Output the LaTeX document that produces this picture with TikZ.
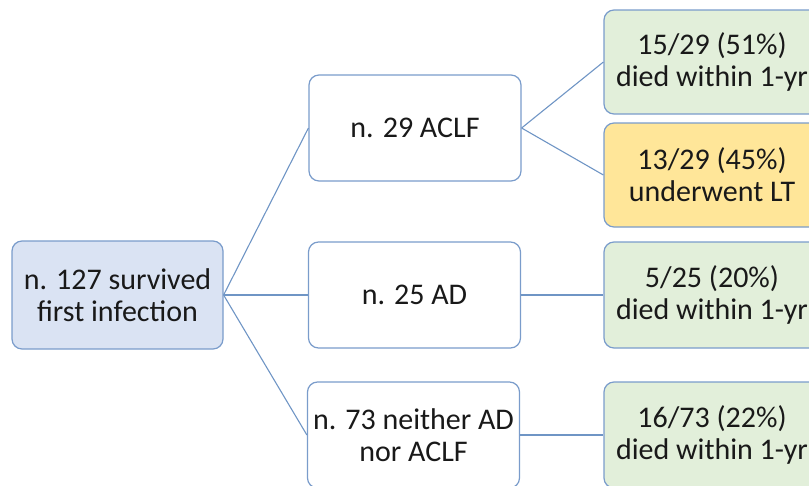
\documentclass[tikz,border=0pt]{standalone}
\usepackage{fontspec}
\setmainfont{Carlito}
\definecolor{boxline}{HTML}{7A9CCB}
\definecolor{conn}{HTML}{6F95C5}
\definecolor{bluefill}{HTML}{DAE3F3}
\definecolor{greenfill}{HTML}{E2EFDA}
\definecolor{yellowfill}{HTML}{FFE699}
\begin{document}
\begin{tikzpicture}[x=1pt,y=-1pt,
  box/.style={draw=boxline, line width=1.2pt, rounded corners=10pt, fill=white,
    minimum width=212pt, minimum height=106pt, align=center, inner sep=0pt,
    font=\fontsize{30}{32}\selectfont, text=black!90},
  rbox/.style={box, minimum width=216pt},
  link/.style={draw=conn, line width=1.1pt}]
\useasboundingbox (0,0) rectangle (809,485);
\clip (0,0) rectangle (809,485);
\node[box, fill=bluefill, minimum width=211pt, minimum height=108pt] (root) at (117.5,295) {n. 127 survived\\first infection};
\node[box] (aclf) at (415,128) {n. 29 ACLF};
\node[box] (ad) at (414.5,295) {n. 25 AD};
\node[box] (nei) at (413.5,435) {n. 73 neither AD\\nor ACLF};
\node[rbox, fill=greenfill, minimum height=104pt] (g1) at (712,62) {15/29 (51\%)\\died within 1-yr};
\node[rbox, fill=yellowfill, minimum height=104pt] (y1) at (712,175) {13/29 (45\%)\\underwent LT};
\node[rbox, fill=greenfill] (g2) at (712,295) {5/25 (20\%)\\died within 1-yr};
\node[rbox, fill=greenfill] (g3) at (712,435) {16/73 (22\%)\\died within 1-yr};
\draw[link] (root.east) -- (aclf.west);
\draw[link] (root.east) -- (ad.west);
\draw[link] (root.east) -- (nei.west);
\draw[link] (aclf.east) -- (g1.west);
\draw[link] (aclf.east) -- (y1.west);
\draw[link] (ad.east) -- (g2.west);
\draw[link] (nei.east) -- (g3.west);
\end{tikzpicture}
\end{document}
